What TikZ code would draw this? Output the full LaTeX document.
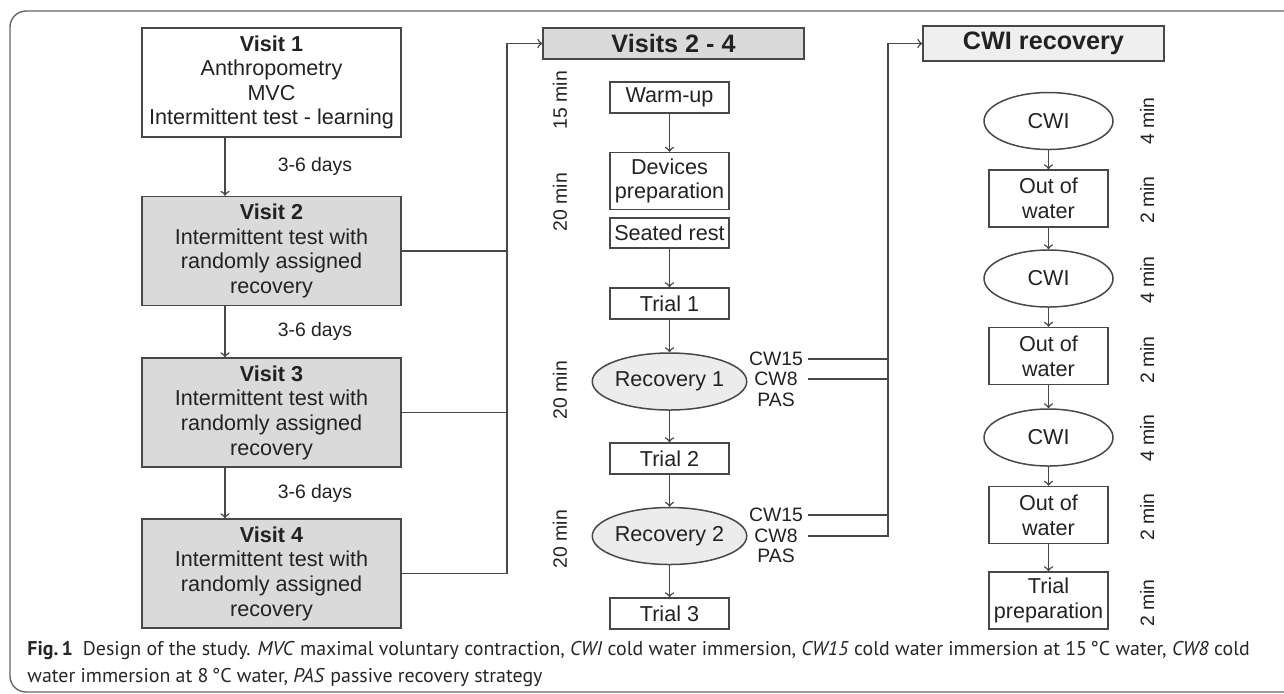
\documentclass[tikz,border=0pt]{standalone}
\usepackage{fontspec}
\setmainfont{Liberation Sans}
\newfontfamily\capfont{PT Sans}
\usetikzlibrary{shapes.geometric}
\definecolor{linegray}{HTML}{484848}
\definecolor{textgray}{HTML}{222222}
\definecolor{visitfill}{HTML}{DADADA}
\definecolor{recfill}{HTML}{ECECEC}
\definecolor{cwifill}{HTML}{EFEFEF}
\begin{document}
\begin{tikzpicture}[x=0.5pt, y=-0.5pt,
    every node/.style={text=textgray},
    flow/.style={draw=linegray, line width=0.75pt},
    arr/.style={flow, ->},
    box/.style={draw=linegray, line width=0.75pt, inner sep=0pt, align=center,
      font=\fontsize{10.8}{12.3}\selectfont},
    visit/.style={box, minimum width=129.5pt, minimum height=54.5pt},
    stepbox/.style={box, minimum width=59.5pt, minimum height=15.5pt},
    tallbox/.style={box, minimum width=59.5pt, minimum height=28.5pt},
    oval/.style={box, ellipse, minimum width=64.5pt, minimum height=28.5pt},
    header/.style={box, font=\fontsize{12.6}{14}\selectfont\bfseries},
    small/.style={font=\fontsize{9.7}{10.25}\selectfont, inner sep=0pt},
    timelabel/.style={small, rotate=90}
  ]
  \useasboundingbox (0,0) rectangle (1284,693);
  \draw [draw=black!60, line width=0.7pt, rounded corners=8pt] (10,11) rectangle (1310,692);

  \node [visit] (v1) at (271.5,82.5) {\textbf{Visit 1}\\Anthropometry\\MVC\\Intermittent test - learning};
  \node [visit, fill=visitfill] (v2) at (271.5,251) {\textbf{Visit 2}\\Intermittent test with\\randomly assigned\\recovery};
  \node [visit, fill=visitfill] (v3) at (271.5,412.5) {\textbf{Visit 3}\\Intermittent test with\\randomly assigned\\recovery};
  \node [visit, fill=visitfill] (v4) at (271.5,573.5) {\textbf{Visit 4}\\Intermittent test with\\randomly assigned\\recovery};
  \coordinate (ax) at (225,0);
  \draw [arr] (v1.south -| ax) -- node[small, right=26pt] {3-6 days} (v2.north -| ax);
  \draw [arr] (v2.south -| ax) -- node[small, right=26pt] {3-6 days} (v3.north -| ax);
  \draw [arr] (v3.south -| ax) -- node[small, right=26pt] {3-6 days} (v4.north -| ax);

  \node [header, fill=visitfill, minimum width=130.5pt, minimum height=15.5pt] (hdrA) at (673.5,43.5) {Visits 2 - 4};
  \coordinate (jA) at (507,43.5);
  \draw [flow] (v2.east) -- (v2.east -| jA);
  \draw [flow] (v3.east) -- (v3.east -| jA);
  \draw [arr] (v4.east) -| (jA) -- (hdrA.west);

  \node [stepbox] (warm) at (669.5,97.5) {Warm-up};
  \node [tallbox] (dev) at (669.5,181) {Devices\\preparation};
  \node [stepbox, minimum height=15pt] (rest) at (669.5,233) {Seated rest};
  \node [stepbox] (t1) at (669.5,303.5) {Trial 1};
  \node [oval, fill=recfill] (rec1) at (669.5,381.5) {Recovery 1};
  \node [stepbox] (t2) at (669.5,458.5) {Trial 2};
  \node [oval, fill=recfill] (rec2) at (669.5,536) {Recovery 2};
  \node [stepbox] (t3) at (669.5,613.5) {Trial 3};
  \draw [arr] (warm) -- (dev);
  \draw [arr] (rest) -- (t1);
  \draw [arr] (t1) -- (rec1);
  \draw [arr] (rec1) -- (t2);
  \draw [arr] (t2) -- (rec2);
  \draw [arr] (rec2) -- (t3);

  \node [timelabel] (m15) at (560,100) {15 min};
  \node [timelabel] (m20a) at (560,202) {20 min};
  \node [timelabel] (m20b) at (560,390) {20 min};
  \node [timelabel] (m20c) at (560,539) {20 min};

  \node [small] (cw15a) at (776,359) {CW15};
  \node [small] (cw8a) at (776,379) {CW8};
  \node [small] (pasa) at (776,400) {PAS};
  \node [small] (cw15b) at (776,515) {CW15};
  \node [small] (cw8b) at (776,536) {CW8};
  \node [small] (pasb) at (776,556) {PAS};

  \node [header, fill=cwifill, minimum width=120.5pt, minimum height=17.5pt] (hdrB) at (1043.5,43.5) {CWI recovery};
  \coordinate (jB) at (888,43.5);
  \coordinate (cwx) at (808,0);
  \draw [flow] (cw15a -| cwx) -- (cw15a -| jB);
  \draw [flow] (cw8a -| cwx) -- (cw8a -| jB);
  \draw [flow] (cw15b -| cwx) -- (cw15b -| jB);
  \draw [arr] (cw8b -| cwx) -| (jB) -- (hdrB.west);

  \node [oval] (cwi1) at (1048.5,121) {CWI};
  \node [tallbox] (ow1) at (1048.5,198.5) {Out of\\water};
  \node [oval] (cwi2) at (1048.5,278.5) {CWI};
  \node [tallbox] (ow2) at (1048.5,356) {Out of\\water};
  \node [oval] (cwi3) at (1048.5,437.5) {CWI};
  \node [tallbox] (ow3) at (1048.5,515) {Out of\\water};
  \node [tallbox] (prep) at (1048.5,600.5) {Trial\\preparation};
  \draw [arr] (cwi1) -- (ow1);
  \draw [arr] (ow1) -- (cwi2);
  \draw [arr] (cwi2) -- (ow2);
  \draw [arr] (ow2) -- (cwi3);
  \draw [arr] (cwi3) -- (ow3);
  \draw [arr] (ow3) -- (prep);

  \foreach \y/\t [count=\i] in {121/4, 200/2, 280/4, 360/2, 438/4, 517/2, 603/2}
    \node [timelabel] (tm\i) at (1147,\y) {\t\ min};

  \node [anchor=north west, align=left, inner sep=0pt, text=black!85,
    font=\capfont\fontsize{9.95}{13.5}\selectfont] (cap) at (27,641)
    {\textbf{Fig.\,1}\enspace Design of the study. \textit{MVC} maximal voluntary contraction, \textit{CWI} cold water immersion, \textit{CW15} cold water immersion at 15\,°C water, \textit{CW8} cold\\
     water immersion at 8\,°C water, \textit{PAS} passive recovery strategy};
\end{tikzpicture}
\end{document}
